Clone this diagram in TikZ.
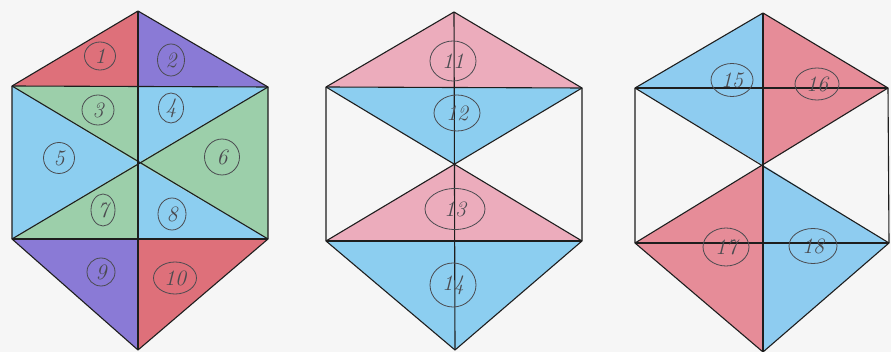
\documentclass[tikz,border=0pt]{standalone}
\usepackage{fontspec}
\usetikzlibrary{shapes.geometric}
\definecolor{paper}{RGB}{246,246,246}
\definecolor{cred}{RGB}{222,112,122}
\definecolor{cpurple}{RGB}{138,122,214}
\definecolor{cgreen}{RGB}{156,207,170}
\definecolor{cblue}{RGB}{140,206,240}
\definecolor{cpink}{RGB}{236,172,188}
\definecolor{cred3}{RGB}{230,140,152}
\definecolor{cblue3}{RGB}{142,204,240}
\definecolor{pencil}{RGB}{75,75,80}
\definecolor{ink}{RGB}{30,30,30}
\tikzset{
  edge/.style={draw=ink,line width=1.1pt,line join=round},
  lab/.style={ellipse,draw=pencil,line width=0.8pt,text=pencil,inner sep=0pt,font=\fontsize{22}{22}\selectfont\itshape},
  sz/.style 2 args={minimum width=#1pt,minimum height=#2pt}
}
\begin{document}
\begin{tikzpicture}[x=1pt,y=-1pt]
\useasboundingbox[fill=paper] (0,0) rectangle (891,352);
% ---------- hexagon 1 ----------
\coordinate (aT) at (138,11);
\coordinate (aUL) at (12,86);
\coordinate (aUR) at (268,87);
\coordinate (aLL) at (12,239);
\coordinate (aLR) at (268,239);
\coordinate (aB) at (138,350);
\coordinate (aC) at (138,163);
\coordinate (aM) at (138,86.5);
\coordinate (aN) at (138,239);
\fill[cred] (aT) -- (aUL) -- (aM) -- cycle;
\fill[cpurple] (aT) -- (aM) -- (aUR) -- cycle;
\fill[cgreen] (aUL) -- (aM) -- (aC) -- cycle;
\fill[cblue] (aM) -- (aUR) -- (aC) -- cycle;
\fill[cblue] (aUL) -- (aC) -- (aLL) -- cycle;
\fill[cgreen] (aUR) -- (aLR) -- (aC) -- cycle;
\fill[cgreen] (aLL) -- (aC) -- (aN) -- cycle;
\fill[cblue] (aC) -- (aLR) -- (aN) -- cycle;
\fill[cpurple] (aLL) -- (aN) -- (aB) -- cycle;
\fill[cred] (aN) -- (aLR) -- (aB) -- cycle;
\draw[edge] (aT) -- (aUR) -- (aLR) -- (aB) -- (aLL) -- (aUL) -- cycle;
\draw[edge] (aT) -- (aB);
\draw[edge] (aUL) -- (aUR);
\draw[edge] (aLL) -- (aLR);
\draw[edge] (aUL) -- (aLR);
\draw[edge] (aUR) -- (aLL);
\node[lab,sz={31}{28}] (n1) at (100,56) {1};
\node[lab,sz={27}{32}] (n2) at (171,60) {2};
\node[lab,sz={32}{30}] (n3) at (98,110) {3};
\node[lab,sz={25}{30}] (n4) at (171,108) {4};
\node[lab,sz={31}{31}] (n5) at (59,158) {5};
\node[lab,sz={35}{36}] (n6) at (222,157) {6};
\node[lab,sz={24}{32}] (n7) at (103,210) {7};
\node[lab,sz={28}{32}] (n8) at (172,214) {8};
\node[lab,sz={28}{28}] (n9) at (101,272) {9};
\node[lab,sz={43}{32}] (n10) at (175,278) {10};
% ---------- hexagon 2 ----------
\coordinate (bT) at (454,12);
\coordinate (bUL) at (326,87);
\coordinate (bUR) at (582,88);
\coordinate (bLL) at (326,241);
\coordinate (bLR) at (582,241);
\coordinate (bB) at (455,350);
\coordinate (bC) at (454,164);
\fill[cpink] (bT) -- (bUL) -- (bUR) -- cycle;
\fill[cblue] (bUL) -- (bUR) -- (bC) -- cycle;
\fill[cpink] (bC) -- (bLL) -- (bLR) -- cycle;
\fill[cblue] (bLL) -- (bLR) -- (bB) -- cycle;
\draw[edge] (bT) -- (bUR) -- (bLR) -- (bB) -- (bLL) -- (bUL) -- cycle;
\draw[edge] (bT) -- (bB);
\draw[edge] (bUL) -- (bUR);
\draw[edge] (bLL) -- (bLR);
\draw[edge] (bUL) -- (bLR);
\draw[edge] (bUR) -- (bLL);
\node[lab,sz={46}{40}] (n11) at (453,61) {11};
\node[lab,sz={46}{36}] (n12) at (457,113) {12};
\node[lab,sz={60}{41}] (n13) at (455,209) {13};
\node[lab,sz={46}{44}] (n14) at (453,285) {14};
% ---------- hexagon 3 ----------
\coordinate (cT) at (763,13);
\coordinate (cUL) at (635,88);
\coordinate (cUR) at (888,88);
\coordinate (cLL) at (635,243);
\coordinate (cLR) at (889,243);
\coordinate (cB) at (763,352);
\coordinate (cC) at (763,165);
\fill[cblue3] (cT) -- (cUL) -- (cC) -- cycle;
\fill[cred3] (cT) -- (cUR) -- (cC) -- cycle;
\fill[cred3] (cLL) -- (cC) -- (cB) -- cycle;
\fill[cblue3] (cC) -- (cLR) -- (cB) -- cycle;
\draw[edge] (cT) -- (cUR) -- (cLR) -- (cB) -- (cLL) -- (cUL) -- cycle;
\draw[edge] (cT) -- (cB);
\draw[edge] (cUL) -- (cUR);
\draw[edge] (cLL) -- (cLR);
\draw[edge] (cUL) -- (cLR);
\draw[edge] (cUR) -- (cLL);
\node[lab,sz={42}{33}] (n15) at (732,80) {15};
\node[lab,sz={44}{32}] (n16) at (817,84) {16};
\node[lab,sz={46}{38}] (n17) at (726,247) {17};
\node[lab,sz={48}{35}] (n18) at (813,246) {18};
\end{tikzpicture}
\end{document}
